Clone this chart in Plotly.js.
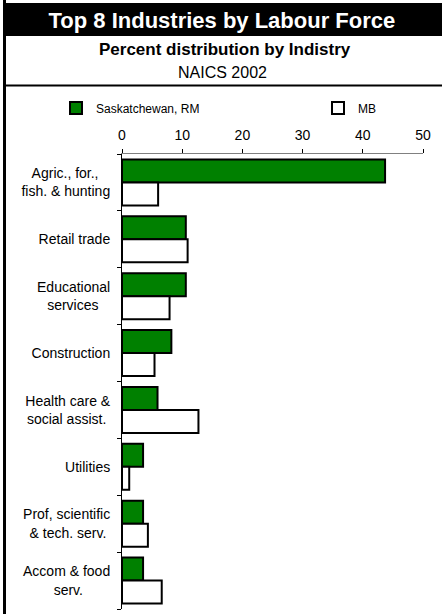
<!DOCTYPE html>
<html>
<head>
<meta charset="utf-8">
<script src="https://cdn.plot.ly/plotly-3.0.1.min.js"></script>
<style>html,body{margin:0;padding:0;background:#fff}#chart{width:442px;height:614px}</style>
</head>
<body>
<div id="chart"></div>
<script>
const categories = [
  "Agric., for.,<br>fish. & hunting",
  "Retail trade",
  "Educational<br>services",
  "Construction",
  "Health care &<br>social assist.",
  "Utilities",
  "Prof, scientific<br>& tech. serv.",
  "Accom & food<br>serv."
];
const saskRM = [43.7, 10.6, 10.6, 8.2, 5.9, 3.5, 3.5, 3.5];
const mb = [6.0, 10.9, 7.9, 5.4, 12.7, 1.2, 4.3, 6.6];
const seriesNames = ["Saskatchewan, RM", "MB"];
const xTicks = [0, 10, 20, 30, 40, 50];

const FONT = "Liberation Sans, Arial, sans-serif";
const L = 122, T = 154, W = 442, H = 614, R = 19, B = 5;
const pw = W - L - R, ph = H - T - B;
const px = v => (v - L) / pw;
const py = v => 1 - (v - T) / ph;

// Centre multi-line tick labels (Plotly right-aligns them) by padding the shorter line.
const ctx = document.createElement("canvas").getContext("2d");
ctx.font = "14px 'Liberation Sans', Arial, sans-serif";
const nbspW = ctx.measureText("\u00a0").width || 3.9;
function centreLabel(label) {
  const lines = label.split("<br>");
  if (lines.length < 2) return label;
  const widths = lines.map(s => ctx.measureText(s).width);
  const maxW = Math.max(...widths);
  return lines.map((s, i) => s + "\u00a0".repeat(Math.max(0, Math.round((maxW - widths[i]) / 2 / nbspW)))).join("<br>");
}
const tickLabels = categories.map(centreLabel);

const traces = [
  {type: "bar", orientation: "h", name: seriesNames[0], y: categories, x: saskRM, legend: "legend",
   marker: {color: "#008000", line: {color: "#000", width: 2}}},
  {type: "bar", orientation: "h", name: seriesNames[1], y: categories, x: mb, legend: "legend2",
   marker: {color: "#ffffff", line: {color: "#000", width: 2}}}
];

const legendBase = {orientation: "h", xanchor: "left", yanchor: "middle", y: py(108),
  font: {family: FONT, size: 12, color: "#000"}, bgcolor: "rgba(0,0,0,0)", borderwidth: 0};

const layout = {
  width: W, height: H,
  margin: {l: L, r: R, t: T, b: B, pad: 0},
  paper_bgcolor: "#fff", plot_bgcolor: "#fff",
  font: {family: FONT, size: 14, color: "#000"},
  barmode: "group", bargap: 0.19, bargroupgap: 0,
  title: {text: "<b>Top 8 Industries by Labour Force</b>", font: {family: FONT, size: 22, color: "#fff"},
          x: 0.502, xanchor: "center", y: 1 - 20 / H, yanchor: "middle", yref: "container"},
  xaxis: {side: "top", range: [0, 50], tickvals: xTicks, ticktext: xTicks.map(String),
          ticks: "outside", ticklen: 4, tickcolor: "#000", tickwidth: 1, ticklabelstandoff: 3,
          showline: true, linecolor: "#808080", linewidth: 1, showgrid: false, zeroline: false,
          tickfont: {family: FONT, size: 14, color: "#000"}, fixedrange: true},
  yaxis: {type: "category", autorange: "reversed", tickson: "boundaries",
          tickmode: "array", tickvals: categories, ticktext: tickLabels,
          ticks: "outside", ticklen: 4, tickcolor: "#000", tickwidth: 1,
          showline: true, linecolor: "#000", linewidth: 1, showgrid: false, zeroline: false,
          ticklabelstandoff: 8,
          tickfont: {family: FONT, size: 14, color: "#000"}, fixedrange: true},
  legend: Object.assign({}, legendBase, {x: px(56)}),
  legend2: Object.assign({}, legendBase, {x: px(318)}),
  showlegend: true,
  shapes: [
    {type: "rect", xref: "paper", yref: "paper", x0: px(3), x1: px(445), y0: py(36), y1: py(3),
     fillcolor: "#000", line: {width: 0}, layer: "below"},
    {type: "line", xref: "paper", yref: "paper", x0: px(4.5), x1: px(4.5), y0: py(0), y1: py(616),
     line: {color: "#000", width: 3}},
    {type: "line", xref: "paper", yref: "paper", x0: px(3), x1: px(445), y0: py(85.5), y1: py(85.5),
     line: {color: "#000", width: 2}}
  ],
  annotations: [
    {xref: "paper", yref: "paper", x: px(225), y: py(50), xanchor: "center", yanchor: "middle",
     text: "<b>Percent distribution by Indistry</b>", showarrow: false,
     font: {family: FONT, size: 17, color: "#000"}},
    {xref: "paper", yref: "paper", x: px(222), y: py(73), xanchor: "center", yanchor: "middle",
     text: "NAICS 2002", showarrow: false,
     font: {family: FONT, size: 16, color: "#000"}}
  ]
};

Plotly.newPlot("chart", traces, layout, {displayModeBar: false, staticPlot: true});
</script>
</body>
</html>
